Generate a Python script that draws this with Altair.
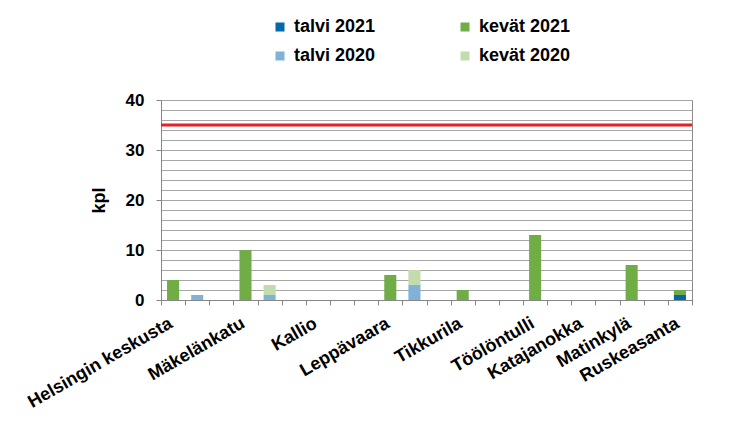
import json
import altair as alt
import pandas as pd

# --- data -----------------------------------------------------------------
slot_labels = ["Helsingin keskusta", "", "", "Mäkelänkatu", "", "", "Kallio", "", "",
               "Leppävaara", "", "", "Tikkurila", "", "", "Töölöntulli", "",
               "Katajanokka", "", "Matinkylä", "", "Ruskeasanta"]
talvi_2021 = [0, 0, 0, 0, 0, 0, 0, 0, 0, 0, 0, 0, 0, 0, 0, 0, 0, 0, 0, 0, 0, 1]
kevat_2021 = [4, 0, 0, 10, 0, 0, 0, 0, 0, 5, 0, 0, 2, 0, 0, 13, 0, 0, 0, 7, 0, 1]
talvi_2020 = [0, 1, 0, 0, 1, 0, 0, 0, 0, 0, 3, 0, 0, 0, 0, 0, 0, 0, 0, 0, 0, 0]
kevat_2020 = [0, 0, 0, 0, 2, 0, 0, 0, 0, 0, 3, 0, 0, 0, 0, 0, 0, 0, 0, 0, 0, 0]
series_names = ["talvi 2021", "kevät 2021", "talvi 2020", "kevät 2020"]
series_colors = ["#0069AA", "#70AD47", "#7FB2D6", "#C2DCAE"]
series_order = [0, 1, 0, 1]
limit_value = [35]
y_values = list(range(0, 41, 2))

FONT = "Liberation Sans"
PLOT_W = 531

rows = []
for name, vals, order in zip(series_names, [talvi_2021, kevat_2021, talvi_2020, kevat_2020], series_order):
    for i, v in enumerate(vals):
        if v > 0:
            rows.append({"slot": i, "series": name, "value": v, "ord": order})
df = pd.DataFrame(rows)

label_js = json.dumps(slot_labels, ensure_ascii=False)
slots = list(range(len(slot_labels)))
y_scale = alt.Scale(domain=[0, 40], nice=False)

bars = alt.Chart(df).mark_bar(width=alt.RelativeBandSize(0.5)).encode(
    x=alt.X("slot:O",
            scale=alt.Scale(domain=slots, paddingInner=0, paddingOuter=0),
            axis=alt.Axis(title=None, labelExpr=f"{label_js}[datum.value]",
                          tickBand="extent",
                          labelAngle=-30, labelAlign="right",
                          labelBaseline="top", labelPadding=9,
                          labelOffset=-7,
                          labelOverlap=False,
                          labelLimit=400, labelFont=FONT, labelFontSize=18,
                          labelFontWeight="bold", labelColor="#000000",
                          ticks=True, tickSize=5, tickColor="#868686", tickWidth=1,
                          domainColor="#868686", grid=False)),
    y=alt.Y("value:Q", stack="zero", scale=y_scale,
            axis=alt.Axis(title="kpl", values=y_values, tickCount=len(y_values),
                          labelExpr="datum.value % 10 === 0 ? datum.label : ''",
                          tickOpacity={"condition": {"test": "datum.value % 10 === 0", "value": 1}, "value": 0},
                          tickSize=5, tickColor="#868686", domainColor="#868686",
                          gridColor="#A6A6A6", gridWidth=1, grid=True,
                          labelOverlap=False,
                          labelPadding=12, labelFont=FONT, labelFontSize=17,
                          labelFontWeight="bold", labelColor="#000000",
                          titleFont=FONT, titleFontSize=18, titleFontWeight="bold",
                          titleColor="#000000", titlePadding=17)),
    color=alt.Color("series:N",
                    scale=alt.Scale(domain=series_names, range=series_colors),
                    legend=alt.Legend(title=None, orient="none", legendX=110, legendY=-82,
                                      direction="horizontal",
                                      columns=2, columnPadding=80, rowPadding=11,
                                      symbolType="square", symbolSize=81,
                                      symbolStrokeWidth=0, symbolOpacity=1,
                                      labelFont=FONT, labelFontSize=18,
                                      labelFontWeight="bold", labelColor="#000000",
                                      labelOffset=5, padding=0)),
    order=alt.Order("ord:Q"),
)

limit = alt.Chart(pd.DataFrame({"limit": limit_value})).mark_rule(
    color="#EE1D23", strokeWidth=3
).encode(
    y=alt.Y("limit:Q", scale=y_scale)
)

chart = alt.layer(bars, limit).properties(
    width=PLOT_W, height=200,
    padding={"left": 153, "top": 92, "right": 33, "bottom": 128},
    autosize=alt.AutoSizeParams(type="none"),
    background="#FFFFFF",
).configure_view(stroke="#8C8C8C")

chart.save("out.html", embed_options={"renderer": "svg", "actions": False})
